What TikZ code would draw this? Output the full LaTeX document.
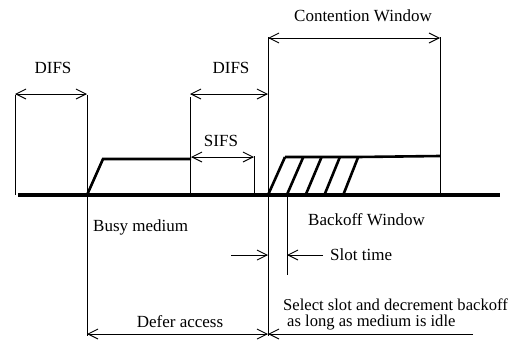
\documentclass[tikz,border=0pt]{standalone}
\usepackage{fontspec}
\setmainfont{Liberation Serif}
\usetikzlibrary{arrows.meta}

\begin{document}
\begin{tikzpicture}[x=1pt, y=1pt]
        % ================= styles =================
        \tikzset{
            % the medium (time axis)
            medium/.style={line width=4.6pt},
            % frame outlines
            frame/.style={line width=2.6pt, line join=miter},
            % thin marker lines
            mark line/.style={line width=0.9pt},
            % interval arrows
            span/.style={line width=0.9pt, {Straight Barb[length=10pt,width=10pt]}-{Straight Barb[length=10pt,width=10pt]}},
            onespan/.style={line width=0.9pt, -{Straight Barb[length=10pt,width=10pt]}},
            lbl/.style={font=\fontsize{17}{20}\selectfont, inner sep=0pt},
            note/.style={font=\fontsize{16.6}{19}\selectfont, inner sep=0pt, anchor=west}
        }
        \useasboundingbox (0,-146) rectangle (527,195);

        % ================= time marks =================
        \coordinate (m0) at (15,0);
        \coordinate (m1) at (87,0);
        \coordinate (m2) at (190,0);
        \coordinate (m3) at (254,0);
        \coordinate (m4) at (268,0);
        \coordinate (m5) at (287,0);
        \coordinate (m6) at (440,0);

        % marker lines
        \coordinate (m0t) at (15,100);
        \coordinate (m1t) at (87,100);
        \coordinate (m1b) at (87,-141);
        \coordinate (m2t) at (190,98);
        \coordinate (m3t) at (254,39);
        \coordinate (m4t) at (268,158);
        \coordinate (m4b) at (268,-141);
        \coordinate (m5b) at (287,-80);
        \coordinate (m6t) at (440,158);
        \draw[mark line] (m0) -- (m0t);
        \draw[mark line] (m1t) -- (m1b);
        \draw[mark line] (m2) -- (m2t);
        \draw[mark line] (m3) -- (m3t);
        \draw[mark line] (m4t) -- (m4b);
        \draw[mark line] (m5) -- (m5b);
        \draw[mark line] (m6) -- (m6t);

        % ================= busy frame =================
        \coordinate (b1) at (103,36);
        \coordinate (b2) at (191,36);
        \draw[frame] (m1) -- (b1) -- (b2);

        % ================= backoff slots =================
        \coordinate (s5) at (358,38);
        \coordinate (cw) at (440,39);
        \foreach \k in {0,...,4}
            \draw[frame] (268+18.8*\k,0) -- (285+18.3*\k,38);
        \draw[frame] (285,38) -- (s5) -- (cw);

        % the medium
        \coordinate (ax0) at (18,0);
        \coordinate (ax1) at (500,0);
        \draw[medium] (ax0) -- (ax1);

        % ================= intervals =================
        % DIFS before the busy medium
        \coordinate (d0a) at (15,101);
        \coordinate (d0b) at (87,101);
        \draw[span] (d0a) -- (d0b);
        \node[lbl] (difsA) at (53,127) {DIFS};

        % DIFS after the busy medium
        \coordinate (d1a) at (190,101);
        \coordinate (d1b) at (268,101);
        \draw[span] (d1a) -- (d1b);
        \node[lbl] (difsB) at (231,127) {DIFS};

        % SIFS
        \coordinate (sa) at (191,38);
        \coordinate (sb) at (254,38);
        \draw[span] (sa) -- (sb);
        \node[lbl] (sifs) at (221,54) {SIFS};

        % contention window
        \coordinate (ca) at (268,157);
        \coordinate (cb) at (440,157);
        \draw[span] (ca) -- (cb);
        \node[lbl] (cwin) at (363,179) {Contention Window};

        % defer access
        \coordinate (da) at (87,-139);
        \coordinate (db) at (268,-139);
        \draw[span] (da) -- (db);
        \node[lbl] (defer) at (180,-127) {Defer access};

        % idle line back to the end of DIFS
        \coordinate (ie) at (473,-139);
        \draw[onespan] (ie) -- (db);

        % slot time
        \coordinate (ta) at (231,-60);
        \coordinate (tb) at (268,-60);
        \coordinate (tc) at (323,-60);
        \coordinate (td) at (287,-60);
        \draw[onespan] (ta) -- (tb);
        \draw[onespan] (tc) -- (td);
        \node[lbl, anchor=west] (slot) at (330,-60) {Slot time};

        % ================= texts =================
        \node[lbl, anchor=west] (busy) at (93,-32) {Busy medium};
        \node[lbl, anchor=west] (bwin) at (308,-25) {Backoff Window};
        \node[note] (sel1) at (283,-110) {Select slot and decrement backoff};
        \node[note] (sel2) at (287,-128) {as long as medium is idle};

    \end{tikzpicture}
\end{document}
